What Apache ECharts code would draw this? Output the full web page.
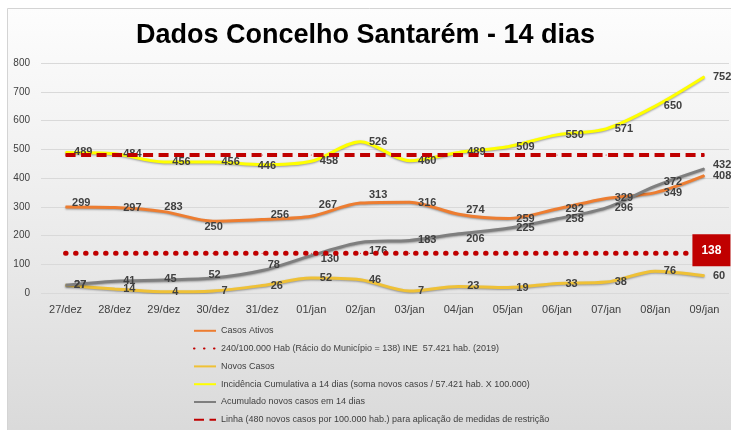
<!DOCTYPE html>
<html>
<head>
<meta charset="utf-8">
<script src="https://cdn.jsdelivr.net/npm/echarts@6/dist/echarts.min.js"></script>
<style>html,body{margin:0;padding:0;background:#fff}#c{width:731px;height:430px}</style>
</head>
<body>
<div id="c"></div>
<script>
const categories = ['27/dez','28/dez','29/dez','30/dez','31/dez','01/jan','02/jan','03/jan','04/jan','05/jan','06/jan','07/jan','08/jan','09/jan'];
const casosAtivos = [299,297,283,250,256,267,313,316,274,259,292,329,349,408];
const ratio138 = [138,138,138,138,138,138,138,138,138,138,138,138,138,138];
const novosCasos = [27,14,4,7,26,52,46,7,23,19,33,38,76,60];
const incidencia = [489,484,456,456,446,458,526,460,489,509,550,571,650,752];
const acumulado = [27,41,45,52,78,130,176,183,206,225,258,296,372,432];
const linha480 = [480,480,480,480,480,480,480,480,480,480,480,480,480,480];
const yTicks = [0,100,200,300,400,500,600,700,800];

const names = [
  'Casos Ativos',
  '240/100.000 Hab (Rácio do Município = 138) INE  57.421 hab. (2019)',
  'Novos Casos',
  'Incidência Cumulativa a 14 dias (soma novos casos / 57.421 hab. X 100.000)',
  'Acumulado novos casos em 14 dias',
  'Linha (480 novos casos por 100.000 hab.) para aplicação de medidas de restrição'
];

// label nudges (style only)
const nudgeOrange = {0:[-2,-4],2:[-8,-5],3:[-17,6],4:[0,-4],5:[-1,-11],6:[0,-8],7:[0,1],8:[-1,-4],9:[0,0]};
const nudgeGray = {2:[-8,-1],3:[-13,-3],4:[-3,-6],5:[1,3],6:[0,9],8:[-1,5],12:[0,-4],13:[0,-4]};
const nudgeYellow = {4:[-13,1]};
const nudgeGold = {};

function mk(vals, nudge){
  return vals.map((v,i)=> nudge[i] ? {value:v, label:{offset:nudge[i]}} : v);
}

const lblFont = 'Liberation Sans, Arial, sans-serif';
const baseLabel = {show:true, position:'right', distance:8, color:'#404040', fontSize:11, fontWeight:'bold', fontFamily:lblFont};
const shadow = {shadowBlur:2, shadowColor:'rgba(0,0,0,0.35)', shadowOffsetY:1};

function lineSeries(name, vals, color, nudge, z){
  return {
    name, type:'line', data: mk(vals, nudge), smooth:0.3,
    symbol:'circle', symbolSize:1, showSymbol:true,
    itemStyle:{color}, lineStyle:Object.assign({color, width:3}, shadow),
    label: baseLabel, z: z||2, animation:false
  };
}

const data138 = ratio138.map((v,i)=> i===ratio138.length-1 ? {value:v, label:{show:true, position:'inside', offset:[7,-3], backgroundColor:'#C00000', color:'#fff', fontWeight:'bold', fontSize:12, fontFamily:lblFont, padding:[10,9,10,9]}} : v);

const chart = echarts.init(document.getElementById('c'), null, {renderer:'canvas'});
chart.setOption({
  backgroundColor:'#ffffff',
  animation:false,
  graphic:[{
    type:'rect', z:-10, silent:true,
    shape:{x:7.5,y:8.5,width:730,height:430},
    style:{
      fill:new echarts.graphic.LinearGradient(0,0,0,1,[{offset:0,color:'#fdfdfd'},{offset:0.5,color:'#ececec'},{offset:1,color:'#d9d9d9'}]),
      stroke:'#d4d4d4', lineWidth:1
    }
  }],
  title:{
    text:'Dados Concelho Santarém - 14 dias', left:'center', top:17,
    textStyle:{fontFamily:'Liberation Sans, Arial, sans-serif', fontWeight:'bold', fontSize:27, color:'#000'}
  },
  grid:{left:41, right:2, top:63, bottom:137, containLabel:false},
  xAxis:{
    type:'category', data:categories, boundaryGap:true,
    axisLine:{show:false}, axisTick:{show:false},
    axisLabel:{color:'#404040', fontSize:11, fontFamily:lblFont, margin:11}
  },
  yAxis:{
    type:'value', min:0, max:800, interval:100,
    axisLine:{show:false}, axisTick:{show:false},
    splitLine:{lineStyle:{color:'#d9d9d9', width:1}},
    axisLabel:{color:'#404040', fontSize:10, fontFamily:lblFont, margin:11,
      formatter:(v)=> yTicks.includes(v) ? String(v) : ''}
  },
  legend:{
    orient:'vertical', left:188, top:321, itemWidth:22, itemHeight:12, itemGap:8.2,
    data:names,
    textStyle:{color:'#404040', fontSize:9, fontFamily:lblFont},
    itemStyle:{opacity:0}
  },
  series:[
    lineSeries(names[0], casosAtivos, '#ED7D31', nudgeOrange, 3),
    {
      name:names[1], type:'line', data:data138, symbol:'circle', symbolSize:1, showSymbol:true,
      itemStyle:{color:'#C00000'}, label:{show:false},
      lineStyle:{color:'#C00000', width:5, type:[0.5,9.5], cap:'round'}, z:6
    },
    lineSeries(names[2], novosCasos, '#EFC136', nudgeGold, 3),
    lineSeries(names[3], incidencia, '#FFFF00', nudgeYellow, 3),
    lineSeries(names[4], acumulado, '#7F7F7F', nudgeGray, 3),
    {
      name:names[5], type:'line', data:linha480, symbol:'circle', symbolSize:1, showSymbol:true,
      itemStyle:{color:'#C00000'}, label:{show:false},
      lineStyle:{color:'#C00000', width:4, type:[10,5.5]}, z:6
    }
  ]
});
</script>
</body>
</html>
